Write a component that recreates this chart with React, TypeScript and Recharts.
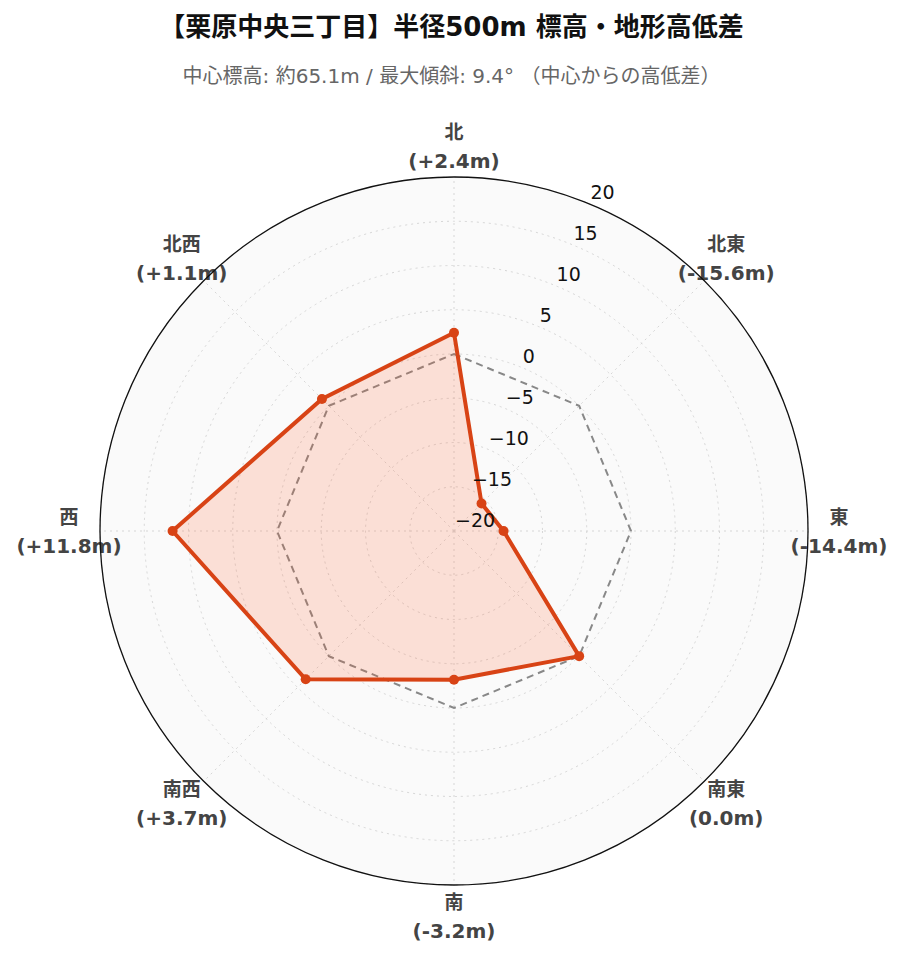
import React from "react";
import {
  PolarAngleAxis,
  PolarGrid,
  PolarRadiusAxis,
  Radar,
  RadarChart,
} from "recharts";

const directions = ["北", "北東", "東", "南東", "南", "南西", "西", "北西"];
const elevationDiff = [2.4, -15.6, -14.4, 0.0, -3.2, 3.7, 11.8, 1.1];
const baseline = [0, 0, 0, 0, 0, 0, 0, 0];
const radiusTicks = [-20, -15, -10, -5, 0, 5, 10, 15, 20];

const TITLE = "【栗原中央三丁目】半径500m 標高・地形高低差";
const SUBTITLE = "中心標高: 約65.1m / 最大傾斜: 9.4° （中心からの高低差）";

const W = 903;
const H = 962;
const CX = 454;
const CY = 531;
const R = 354;
const FONT = '"DejaVu Sans", "Noto Sans CJK JP", sans-serif';
const ACCENT = "#d84315";

const data = directions.map((d, i) => ({
  direction: d,
  diff: elevationDiff[i],
  zero: baseline[i],
}));

const fmt = (v: number) => `(${v > 0 ? "+" : ""}${v.toFixed(1)}m)`;

function AngleTick(props: any) {
  const { payload, index } = props;
  const angle = (payload.coordinate * Math.PI) / 180;
  const x = CX + (R + 31) * Math.cos(-angle);
  const y = CY + (R + 31) * Math.sin(-angle);
  return (
    <g>
      <text
        x={x}
        y={y - 14.5}
        textAnchor="middle"
        dominantBaseline="central"
        fontFamily={FONT}
        fontWeight="bold"
        fontSize={19}
        fill="#444"
      >
        {payload.value}
      </text>
      <text
        x={x}
        y={y + 14.5}
        textAnchor="middle"
        dominantBaseline="central"
        fontFamily={FONT}
        fontWeight="bold"
        fontSize={20}
        fill="#444"
      >
        {fmt(elevationDiff[index])}
      </text>
    </g>
  );
}

function RadiusTick(props: any) {
  const { x, y, payload } = props;
  const label = String(payload.value).replace("-", "\u2212");
  return (
    <text
      x={x + 1}
      y={y - 11.5}
      textAnchor="start"
      dominantBaseline="central"
      fontFamily={FONT}
      fontSize={19}
      fill="#111"
    >
      {label}
    </text>
  );
}

export default function App() {
  return (
    <div
      style={{
        position: "absolute",
        left: 0,
        top: 0,
        width: W,
        height: H,
        background: "#fff",
        fontFamily: FONT,
      }}
    >
      <div
        style={{
          position: "absolute",
          left: 0,
          width: W,
          top: 10,
          textAlign: "center",
          fontSize: 26,
          fontWeight: "bold",
          color: "#111",
          lineHeight: "34px",
        }}
      >
        {TITLE}
      </div>
      <div
        style={{
          position: "absolute",
          left: 0,
          width: W,
          top: 62,
          textAlign: "center",
          fontSize: 20,
          color: "#666",
          lineHeight: "28px",
        }}
      >
        {SUBTITLE}
      </div>

      {/* polar background */}
      <svg
        width={W}
        height={H}
        style={{ position: "absolute", left: 0, top: 0 }}
      >
        <circle cx={CX} cy={CY} r={R} fill="#fafafa" />
      </svg>

      <div style={{ position: "absolute", left: 0, top: 0 }}>
        <RadarChart
          width={W}
          height={H}
          data={data}
          cx={CX}
          cy={CY}
          outerRadius={R}
          startAngle={90}
          endAngle={-270}
          margin={{ top: 0, right: 0, bottom: 0, left: 0 }}
        >
          <PolarGrid
            gridType="circle"
            stroke="#d6d6d6"
            strokeDasharray="2 4"
            strokeWidth={1}
          />
          <PolarAngleAxis
            dataKey="direction"
            tick={<AngleTick />}
            tickLine={false}
            axisLine={false}
          />
          <PolarRadiusAxis
            angle={67.5}
            domain={[-20, 20]}
            ticks={radiusTicks as any}
            tickCount={9}
            axisLine={false}
            tick={<RadiusTick />}
            tickLine={false}
          />
          <Radar
            dataKey="zero"
            stroke="#888"
            strokeWidth={2}
            strokeDasharray="7 5"
            fill="none"
            dot={false}
            isAnimationActive={false}
          />
          <Radar
            dataKey="diff"
            stroke={ACCENT}
            strokeWidth={4}
            fill="#ff5722"
            fillOpacity={0.17}
            dot={{ r: 5, fill: ACCENT, stroke: ACCENT, strokeWidth: 0, fillOpacity: 1 }}
            isAnimationActive={false}
          />
        </RadarChart>
      </div>

      {/* outer boundary */}
      <svg
        width={W}
        height={H}
        style={{ position: "absolute", left: 0, top: 0, pointerEvents: "none" }}
      >
        <circle cx={CX} cy={CY} r={R} fill="none" stroke="#111" strokeWidth={1.3} />
      </svg>
    </div>
  );
}
